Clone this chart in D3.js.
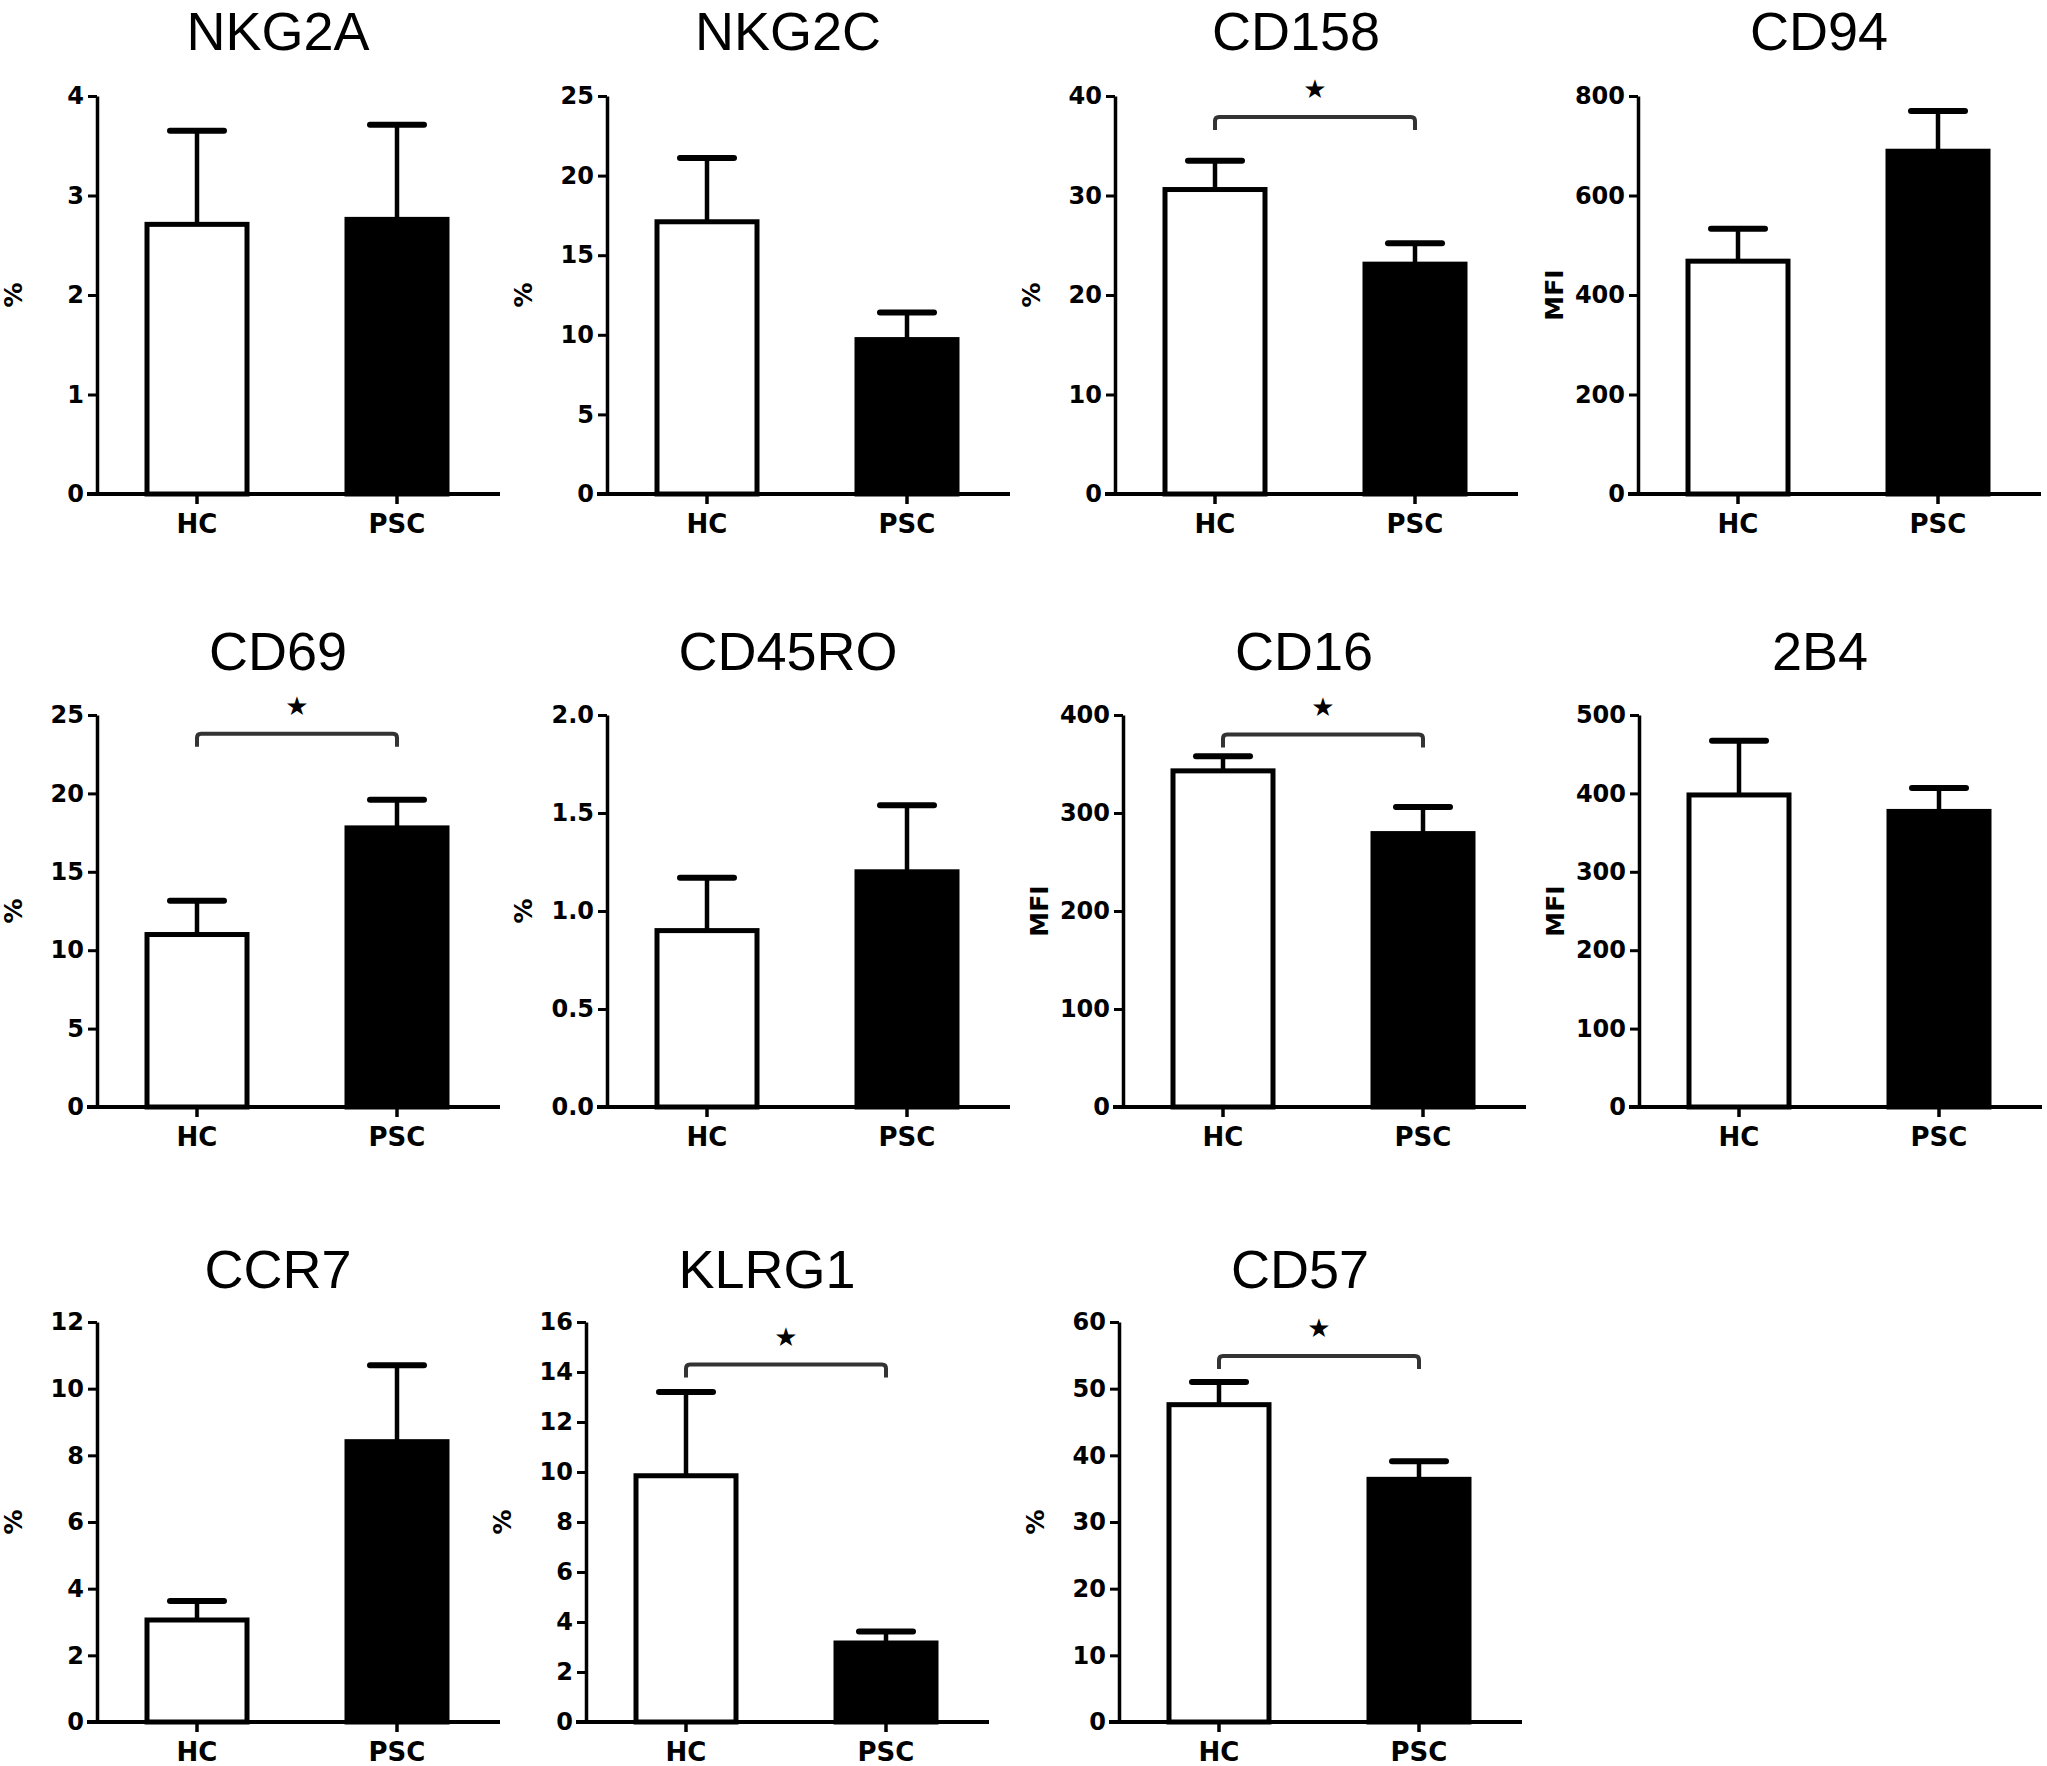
<!DOCTYPE html>
<html>
<head>
<meta charset="utf-8">
<script src="https://cdn.jsdelivr.net/npm/d3@7"></script>
<style>
  body { margin: 0; background: #fff; }
  .tick text { font-family: "DejaVu Sans", sans-serif; font-weight: bold; }
</style>
</head>
<body>
<svg id="mainSvg" width="2047" height="1766"></svg>
<script>
// data
var markers = ["NKG2A", "NKG2C", "CD158", "CD94", "CD69", "CD45RO", "CD16", "2B4", "CCR7", "KLRG1", "CD57"];
var groups = ["HC", "PSC"];
var hcMean  = [2.71, 17.1, 30.6, 468, 11.0, 0.90, 343, 398, 3.06, 9.85, 47.6];
var hcSem   = [0.94, 4.0, 2.9, 65, 2.15, 0.27, 15, 69, 0.57, 3.35, 3.4];
var pscMean = [2.76, 9.7, 23.1, 689, 17.8, 1.20, 279, 377, 8.41, 3.16, 36.4];
var pscSem  = [0.95, 1.7, 2.1, 81, 1.8, 0.34, 27, 30, 2.29, 0.46, 2.7];
var yMax    = [4, 25, 40, 800, 25, 2.0, 400, 500, 12, 16, 60];
var yStep   = [1, 5, 10, 200, 5, 0.5, 100, 100, 2, 2, 10];
var yUnits  = ["%", "%", "%", "MFI", "%", "%", "MFI", "MFI", "%", "%", "%"];
var sigMark = ["", "", "*", "", "*", "", "*", "", "", "*", "*"];
var sigLevel = [0, 0, 37.9, 0, 23.8, 0, 380, 0, 0, 14.3, 54.9];

// layout of the 3 rows / panels
var rows = [
  {zero: 494, top: 96, title: 50},
  {zero: 1107, top: 715, title: 670},
  {zero: 1722, top: 1322, title: 1288}
];
var panelRow = [0, 0, 0, 0, 1, 1, 1, 1, 2, 2, 2];
var panelX = [97, 607, 1115, 1638, 97, 607, 1123, 1639, 97, 586, 1119];
var axisW = 403;

var svg = d3.select("#mainSvg");

markers.forEach(function(name, i) {
  var r = rows[panelRow[i]];
  var height = r.zero - r.top;
  var g = svg.append("g")
    .attr("class", "panel")
    .attr("transform", "translate(" + panelX[i] + "," + r.top + ")");

  var x = d3.scaleBand()
    .domain(groups)
    .range([0, 400])
    .paddingInner(0.5)
    .paddingOuter(0.25);

  var y = d3.scaleLinear()
    .domain([0, yMax[i]])
    .range([height, 0]);

  var ticks = d3.range(0, yMax[i] + yStep[i] / 2, yStep[i]);
  var fmt = yStep[i] < 1 ? d3.format(".1f") : d3.format("d");

  var rowsData = [
    {grp: "HC", mean: hcMean[i], sem: hcSem[i], fill: "#fff"},
    {grp: "PSC", mean: pscMean[i], sem: pscSem[i], fill: "#000"}
  ];

  // error bars (upper only) drawn first, bars cover the lower end
  g.selectAll(".err")
    .data(rowsData)
    .enter().append("line")
    .attr("class", "err")
    .attr("x1", function(d) { return x(d.grp) + x.bandwidth() / 2; })
    .attr("x2", function(d) { return x(d.grp) + x.bandwidth() / 2; })
    .attr("y1", function(d) { return y(d.mean); })
    .attr("y2", function(d) { return y(d.mean + d.sem); })
    .attr("stroke", "#000")
    .attr("stroke-width", 4.5);

  g.selectAll(".cap")
    .data(rowsData)
    .enter().append("line")
    .attr("class", "cap")
    .attr("x1", function(d) { return x(d.grp) + x.bandwidth() / 2 - 27; })
    .attr("x2", function(d) { return x(d.grp) + x.bandwidth() / 2 + 27; })
    .attr("y1", function(d) { return y(d.mean + d.sem); })
    .attr("y2", function(d) { return y(d.mean + d.sem); })
    .attr("stroke", "#000")
    .attr("stroke-width", 6)
    .attr("stroke-linecap", "round");

  g.selectAll(".bar")
    .data(rowsData)
    .enter().append("rect")
    .attr("class", "bar")
    .attr("x", function(d) { return x(d.grp); })
    .attr("width", x.bandwidth())
    .attr("y", function(d) { return y(d.mean); })
    .attr("height", function(d) { return height - y(d.mean); })
    .attr("fill", function(d) { return d.fill; })
    .attr("stroke", "#000")
    .attr("stroke-width", 5);

  // y axis
  var ya = g.append("g")
    .call(d3.axisLeft(y).tickValues(ticks).tickFormat(fmt).tickSize(9).tickPadding(4).tickSizeOuter(0));
  ya.select(".domain").attr("stroke-width", 3.5);
  ya.selectAll(".tick line").attr("stroke-width", 3);
  ya.selectAll(".tick text").style("font-size", "24px").attr("fill", "#000");

  // x axis
  var xa = g.append("g")
    .attr("transform", "translate(0," + height + ")")
    .call(d3.axisBottom(x).tickSize(10).tickPadding(11).tickSizeOuter(0));
  xa.select(".domain").attr("d", "M-10,0H" + axisW).attr("stroke-width", 4);
  xa.selectAll(".tick line").attr("stroke-width", 3.5);
  xa.selectAll(".tick text").style("font-size", "26px").attr("fill", "#000");

  // y label
  g.append("text")
    .attr("transform", "rotate(-90)")
    .attr("x", -height / 2)
    .attr("y", -84)
    .attr("dy", "0.35em")
    .style("text-anchor", "middle")
    .style("font-family", "DejaVu Sans, sans-serif")
    .style("font-weight", "bold")
    .style("font-size", "25px")
    .text(yUnits[i]);

  // title
  svg.append("text")
    .attr("x", panelX[i] + 181)
    .attr("y", r.title)
    .style("text-anchor", "middle")
    .style("font-family", "Liberation Sans, Arial, sans-serif")
    .style("font-size", "54px")
    .text(name);

  // significance bracket
  if (sigMark[i]) {
    var x1 = x("HC") + x.bandwidth() / 2,
        x2 = x("PSC") + x.bandwidth() / 2,
        yb = y(sigLevel[i]);
    var p = d3.path();
    p.moveTo(x1, yb + 13);
    p.lineTo(x1, yb + 4);
    p.quadraticCurveTo(x1, yb, x1 + 4, yb);
    p.lineTo(x2 - 4, yb);
    p.quadraticCurveTo(x2, yb, x2, yb + 4);
    p.lineTo(x2, yb + 13);
    g.append("path")
      .attr("d", p.toString())
      .attr("fill", "none")
      .attr("stroke", "#333")
      .attr("stroke-width", 4);
    g.append("text")
      .attr("x", (x1 + x2) / 2)
      .attr("y", yb - 28)
      .attr("dy", "0.35em")
      .style("text-anchor", "middle")
      .style("font-family", "DejaVu Sans, sans-serif")
      .style("font-size", "26px")
      .text("\u2605");
  }
});
</script>
</body>
</html>
